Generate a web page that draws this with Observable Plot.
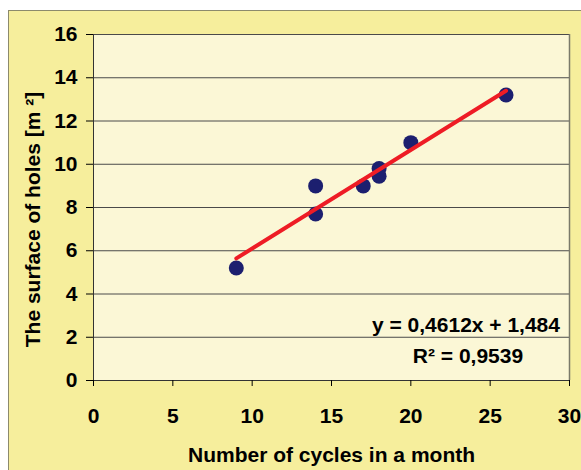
<!DOCTYPE html>
<html>
<head>
<meta charset="utf-8">
<script src="https://cdn.jsdelivr.net/npm/d3@7"></script>
<script src="https://cdn.jsdelivr.net/npm/@observablehq/plot@0.6"></script>
<style>
  html, body { margin: 0; padding: 0; background: #ffffff; }
  #wrap { position: relative; width: 581px; height: 470px; overflow: hidden; }
  #panel { position: absolute; left: 8px; top: 10px; width: 640px; height: 520px;
           background: #f6ee9c; border: 1.5px solid #8c8a6c; }
  #chart { position: absolute; left: 0; top: 0; }
</style>
</head>
<body>
<div id="wrap"><div id="panel"></div><div id="chart"></div></div>
<script>
const cycles = [9, 14, 14, 17, 18, 18, 20, 26];
const surface = [5.2, 9.0, 7.7, 9.0, 9.8, 9.45, 11.0, 13.2];
const xTicks = [0, 5, 10, 15, 20, 25, 30];
const yTicks = [0, 2, 4, 6, 8, 10, 12, 14, 16];
const equationText = "y = 0,4612x + 1,484";
const r2Text = "R² = 0,9539";
const xTitle = "Number of cycles in a month";
const yTitle = "The surface of holes [m ²]";

const data = cycles.map((c, i) => ({cycles: c, surface: surface[i]}));
const FS = 21;

const chart = Plot.plot({
  width: 581,
  height: 470,
  marginLeft: 93,
  marginRight: 12,
  marginTop: 34,
  marginBottom: 90,
  style: {background: "transparent", fontFamily: "'Liberation Sans', Arial, sans-serif",
          fontSize: FS + "px", fontWeight: "bold", color: "#000"},
  x: {domain: [0, 30]},
  y: {domain: [0, 16]},
  marks: [
    Plot.frame({fill: "#fbf7d6", stroke: null}),
    Plot.gridY(yTicks, {stroke: "#4a4a4a", strokeOpacity: 1, strokeWidth: 1}),
    Plot.ruleX([30], {stroke: "#7a7a6a", strokeWidth: 1.5}),
    Plot.ruleX([0], {stroke: "#333"}),
    Plot.ruleY([0], {stroke: "#333"}),
    Plot.axisX({ticks: xTicks, tickSize: 6, tickPadding: 22, label: null, fontSize: FS, tickFormat: d => d}),
    Plot.axisY({ticks: yTicks, tickSize: 7, tickPadding: 9, label: null, fontSize: FS, tickFormat: d => d}),
    Plot.dot(data, {x: "cycles", y: "surface", r: 7.5, fill: "#1c1f6f"}),
    Plot.linearRegressionY(data, {x: "cycles", y: "surface", stroke: "#ee1c25", strokeWidth: 4, ci: 0}),
    Plot.text([equationText], {x: 29.4, y: 2.55, textAnchor: "end", fontSize: FS, fill: "#000"}),
    Plot.text([r2Text], {x: 23.6, y: 1.1, textAnchor: "middle", fontSize: FS, fill: "#000"}),
    Plot.text([xTitle], {frameAnchor: "bottom", textAnchor: "middle", dy: 81, fontSize: FS, fill: "#000"}),
    Plot.text([yTitle], {frameAnchor: "left", textAnchor: "middle", rotate: -90, dx: -60, dy: 12, fontSize: FS, fill: "#000"})
  ]
});
document.getElementById("chart").appendChild(chart);
</script>
</body>
</html>
